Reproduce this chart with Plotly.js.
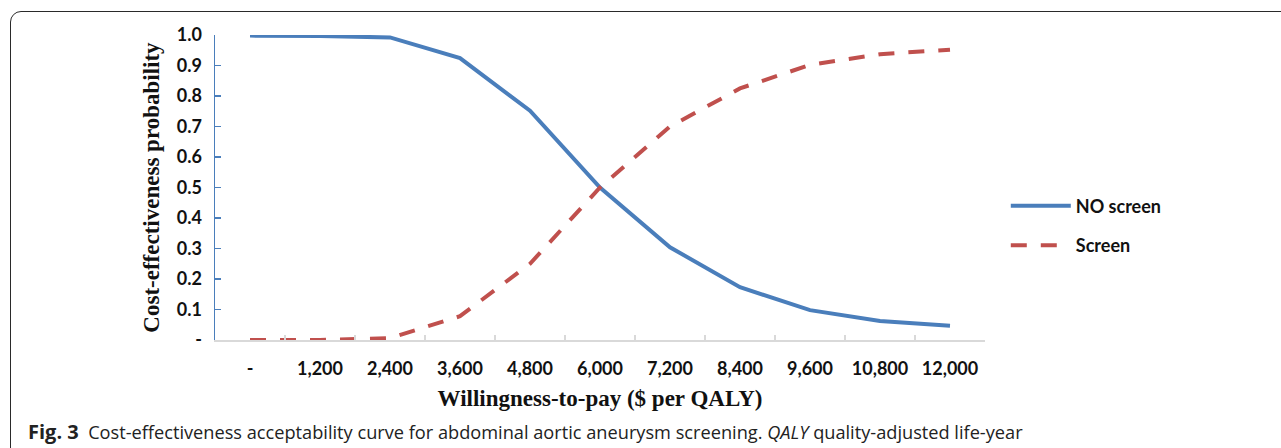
<!DOCTYPE html>
<html>
<head>
<meta charset="utf-8">
<script src="https://cdn.plot.ly/plotly-3.0.1.min.js"></script>
<style>
  html, body { margin: 0; padding: 0; background: #fff; }
  #wrap { position: relative; width: 1281px; height: 448px; overflow: hidden; }
  #frame { position: absolute; left: 10px; top: 11px; width: 1300px; height: 460px;
           border: 1.5px solid #2a2a2a; border-radius: 11px; box-sizing: border-box; }
  #chart { position: absolute; left: 0; top: 0; width: 1281px; height: 448px; }
</style>
</head>
<body>
<div id="wrap">
  <div id="frame"></div>
  <div id="chart"></div>
</div>
<script>
const categories = ["-", "1,200", "2,400", "3,600", "4,800", "6,000", "7,200", "8,400", "9,600", "10,800", "12,000"];
const noScreen = [0.998, 0.997, 0.992, 0.924, 0.752, 0.500, 0.304, 0.173, 0.098, 0.062, 0.047];
const screen = [0.000, 0.000, 0.006, 0.078, 0.250, 0.500, 0.700, 0.825, 0.902, 0.937, 0.952];
const yTickVals = [0, 0.1, 0.2, 0.3, 0.4, 0.5, 0.6, 0.7, 0.8, 0.9, 1.0];
const yTickText = ["-", "0.1", "0.2", "0.3", "0.4", "0.5", "0.6", "0.7", "0.8", "0.9", "1.0"];

const traces = [
  { x: categories, y: noScreen, name: "NO screen", type: "scatter", mode: "lines", legendgroup: "a",
    line: { color: "#4a7ebb", width: 4 } },
  { x: categories, y: screen, name: "Screen", type: "scatter", mode: "lines", legendgroup: "b",
    line: { color: "#c0504d", width: 4, dash: "16px,14px" } }
];

const tickFont = { family: "Lato, 'Open Sans', sans-serif", size: 18, color: "#111", weight: "bold" };

const layout = {
  width: 1281, height: 448,
  margin: { l: 215, r: 296, t: 35, b: 108 },
  paper_bgcolor: "rgba(0,0,0,0)", plot_bgcolor: "rgba(0,0,0,0)",
  showlegend: true,
  legend: { x: 1.027, y: 0.375, xanchor: "left", yanchor: "middle",
            font: { family: "Lato, 'Open Sans', sans-serif", size: 18, color: "#111", weight: "bold" },
            tracegroupgap: 13, itemwidth: 60, bgcolor: "rgba(0,0,0,0)" },
  xaxis: {
    type: "category", range: [-0.5, 10.5],
    showline: true, linecolor: "#d9d9d9", linewidth: 1.5,
    ticks: "inside", tickson: "boundaries", ticklen: 5, tickcolor: "#d9d9d9", tickwidth: 1.5,
    showgrid: false, zeroline: false,
    tickfont: tickFont, ticklabelstandoff: 12,
    title: { text: "Willingness-to-pay ($ per QALY)", standoff: 12,
             font: { family: "'Liberation Serif', 'Times New Roman', serif", size: 23, color: "#111", weight: "bold" } }
  },
  yaxis: {
    range: [0, 1.0], showline: true, linecolor: "#4a7ebb", linewidth: 1.5,
    ticks: "inside", ticklen: 6, tickcolor: "#4a7ebb", tickwidth: 1.5,
    tickvals: yTickVals, ticktext: yTickText,
    showgrid: false, zeroline: false,
    tickfont: tickFont, ticklabelstandoff: 8,
    title: { text: "Cost-effectiveness probability", standoff: 10,
             font: { family: "'Liberation Serif', 'Times New Roman', serif", size: 23, color: "#111", weight: "bold" } }
  },
  annotations: [
    { xref: "paper", yref: "paper", x: (26 - 215) / 770, y: (340 - 431) / 305,
      xanchor: "left", yanchor: "middle", showarrow: false,
      text: "<span style='font-size:20px'><b>Fig. 3</b></span>  Cost-effectiveness acceptability curve for abdominal aortic aneurysm screening. <i>QALY</i> quality-adjusted life-year",
      font: { family: "'Open Sans', 'Noto Sans', sans-serif", size: 18.2, color: "#222" } }
  ]
};

Plotly.newPlot("chart", traces, layout, { displayModeBar: false, staticPlot: true });
</script>
</body>
</html>
